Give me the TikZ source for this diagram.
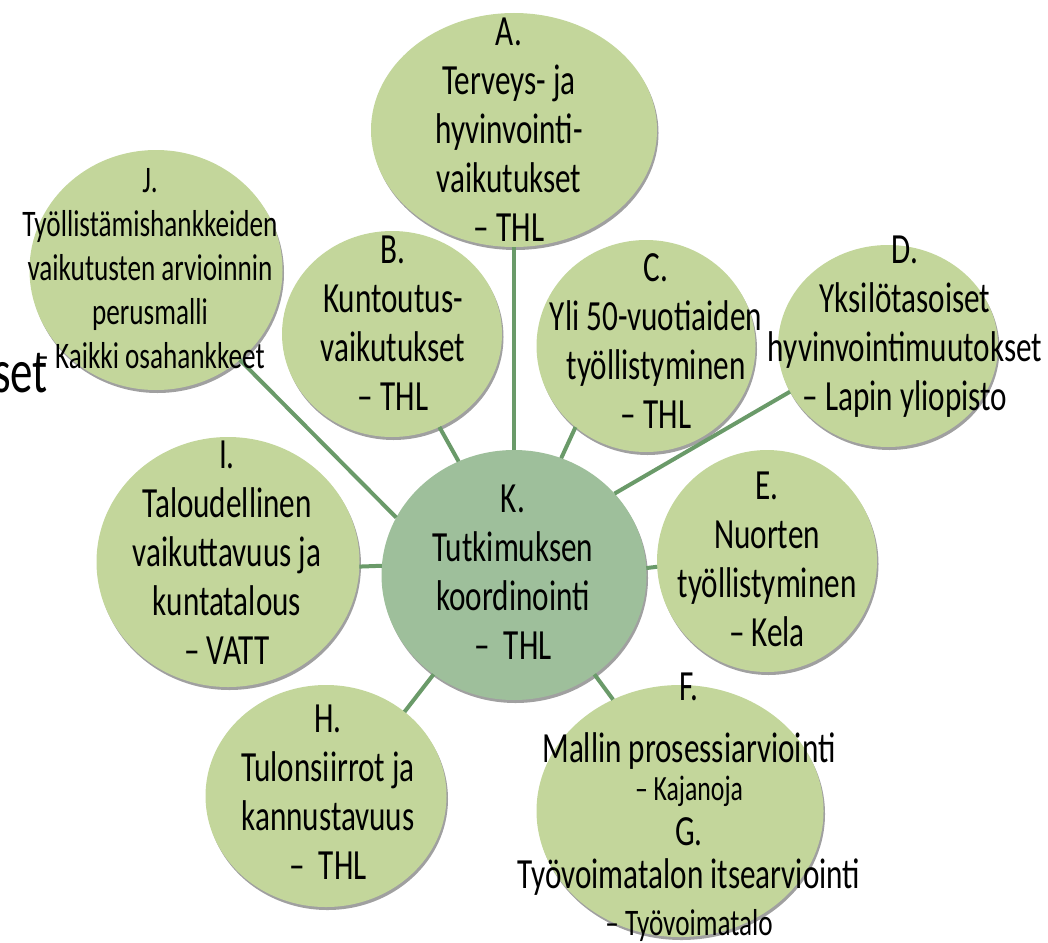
\documentclass[tikz,border=0pt]{standalone}
\usepackage{fontspec}
\setmainfont{Carlito}[FakeStretch=0.725]
\usetikzlibrary{shapes.geometric, shadows}
\definecolor{bubblegreen}{RGB}{195,214,155}
\definecolor{hubgreen}{RGB}{158,191,155}
\definecolor{spokegreen}{RGB}{106,154,105}
\definecolor{rimgrey}{RGB}{160,160,160}
\tikzset{
    bubble/.style={ellipse, fill=bubblegreen, inner sep=0pt, outer sep=0pt,
        drop shadow={shadow xshift=1.5pt, shadow yshift=-3pt, fill=rimgrey, opacity=1}},
    hub/.style={bubble, fill=hubgreen},
    bubbletext/.style={anchor=north, align=center, inner sep=0pt, font=\fontsize{43}{49}\selectfont},
    smalltext/.style={bubbletext, font=\fontsize{37.5}{44}\selectfont},
    spoke/.style={draw=spokegreen, line width=4pt}
}
\begin{document}
\begin{tikzpicture}[x=1pt, y=-1pt]
    \useasboundingbox (0, 0) rectangle (1048, 942);

    % bubbles
    \node[bubble, minimum width=286pt, minimum height=234pt] (a) at (514, 130) {};
    \node[bubble, minimum width=220pt, minimum height=206pt] (b) at (392, 334) {};
    \node[bubble, minimum width=219pt, minimum height=212pt] (c) at (646, 346) {};
    \node[bubble, minimum width=220pt, minimum height=202pt] (d) at (888, 346) {};
    \node[bubble, minimum width=220pt, minimum height=222pt] (e) at (767, 561) {};
    \node[bubble, minimum width=287pt, minimum height=252pt] (f) at (680, 811) {};
    \node[bubble, minimum width=241pt, minimum height=222pt] (h) at (326, 796) {};
    \node[bubble, minimum width=263pt, minimum height=250pt] (i) at (228, 562) {};
    \node[bubble, minimum width=253pt, minimum height=240pt] (j) at (156, 270) {};
    \node[hub, minimum width=265pt, minimum height=250pt] (k) at (514, 575) {};

    % spokes
    \draw[spoke]
    (k.90) edge (a.270)
    (k.116) edge (b.297)
    (k.68) edge (c.229)
    (k.39) edge (d.205)
    (k.3) edge (e.183)
    (k.309) edge (f.121)
    (k.231) edge (h.47)
    (k.176) edge (i.358)
    (k.154) edge (j.313);

    % texts
    \node[bubbletext] (at) at (509, 18) {A.\\ Terveys- ja\\ hyvinvointi-\\ vaikutukset\\ – THL};
    \node[bubbletext] (bt) at (393, 236) {B.\\ Kuntoutus-\\ vaikutukset\\ – THL};
    \node[bubbletext] (ct) at (656, 253) {C.\\ Yli 50-vuotiaiden\\ työllistyminen\\ – THL};
    \node[bubbletext] (dt) at (905, 236) {D.\\ Yksilötasoiset\\ hyvinvointimuutokset\\ – Lapin yliopisto};
    \node[bubbletext] (et) at (767, 472) {E.\\ Nuorten\\ työllistyminen\\ – Kela};
    \node[bubbletext, font=\fontsize{43}{44}\selectfont] (ft) at (689, 673)
        {F.\\[18pt] Mallin prosessiarviointi\\[-6pt]
         {\fontsize{35.5}{40}\selectfont – Kajanoja}\\[1pt] G.\\[-1pt]
         Työvoimatalon itsearviointi\\[3pt] {\fontsize{37.5}{40}\selectfont – Työvoimatalo}};
    \node[bubbletext] (ht) at (328, 705) {H.\\ Tulonsiirrot ja\\ kannustavuus\\ –~~THL};
    \node[bubbletext] (it) at (227, 441) {I.\\ Taloudellinen\\ vaikuttavuus ja\\ kuntatalous\\ – VATT};
    \node[smalltext] (jt) at (150, 168) {J.\\ Työllistämishankkeiden\\ vaikutusten arvioinnin\\ perusmalli\\ – Kaikki osahankkeet};
    \node[bubbletext] (kt) at (513, 485) {K.\\ Tutkimuksen\\ koordinointi\\ –~~THL};

    \node[anchor=base east, inner sep=0pt, font=\fontsize{62}{62}\selectfont] (rest) at (48, 392) {set};
\end{tikzpicture}
\end{document}
